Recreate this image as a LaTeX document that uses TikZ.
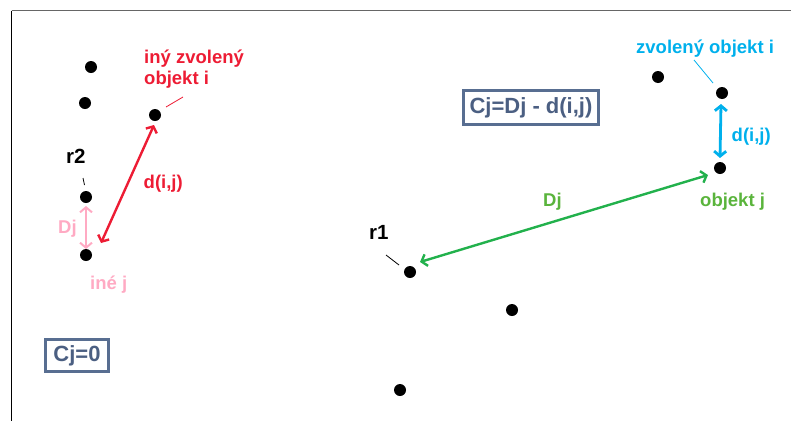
\documentclass[tikz,border=0pt]{standalone}
\usepackage{fontspec}
\setmainfont{Liberation Sans}
\usetikzlibrary{arrows.meta}
\definecolor{cred}{RGB}{237,28,52}
\definecolor{cpink}{RGB}{255,170,195}
\definecolor{ccyan}{RGB}{0,176,236}
\definecolor{cgreen}{RGB}{34,177,76}
\definecolor{cgreentext}{RGB}{90,180,60}
\definecolor{cslate}{RGB}{88,110,145}
\definecolor{cslatetext}{RGB}{75,95,130}
\tikzset{
  dot/.style={circle,fill=black,inner sep=0pt,minimum size=12pt},
  lbl/.style={inner sep=0pt,anchor=base west,font=\bfseries\fontsize{18.5}{22}\selectfont},
  rlbl/.style={inner sep=0pt,anchor=base west,font=\bfseries\fontsize{20.5}{24}\selectfont},
  formbox/.style={draw=cslate,line width=2.6pt,text=cslatetext,inner sep=0pt,font=\bfseries\fontsize{22}{26}\selectfont},
  dbl/.style={{Straight Barb[length=5pt,width=12pt]}-{Straight Barb[length=5pt,width=12pt]}},
  leader/.style={line width=0.8pt}
}
\begin{document}
\begin{tikzpicture}[x=1pt,y=-1pt]
\useasboundingbox (0,0) rectangle (791,421);
% frame
\coordinate (ftl) at (11.5,10.5);
\coordinate (ftr) at (791,10.5);
\coordinate (fbl) at (11.5,421);
\draw[gray!80!black,line width=1.5pt] (ftl) -- (ftr);
\draw[black,line width=1.5pt] (ftl) -- (fbl);
% dots
\node[dot] (a1) at (91,67) {};
\node[dot] (a2) at (85,103) {};
\node[dot] (i2) at (155,115) {};
\node[dot] (r2) at (86,197) {};
\node[dot] (j2) at (86,255) {};
\node[dot] (r1) at (410,272) {};
\node[dot] (b1) at (512,310) {};
\node[dot] (b2) at (400,390) {};
\node[dot] (b3) at (658,77) {};
\node[dot] (i1) at (722,93) {};
\node[dot] (j1) at (720,168) {};
% labels
\node[lbl,text=cred] (t1) at (144,63.3) {iný zvolený};
\node[lbl,text=cred] (t2) at (144,84.5) {objekt i};
\node[rlbl] (tr2) at (66,163) {r2};
\node[lbl,text=cred] (tdr) at (143.5,188.5) {d(i,j)};
\node[lbl,text=cpink] (tdj2) at (58,233) {Dj};
\node[lbl,text=cpink] (tine) at (90,289) {iné j};
\node[lbl,text=ccyan] (tzi) at (636,53) {zvolený objekt i};
\node[lbl,text=ccyan] (tdc) at (731.5,141.5) {d(i,j)};
\node[lbl,text=cgreentext] (toj) at (700,206.5) {objekt j};
\node[lbl,text=cgreentext] (tdj1) at (543,206.5) {Dj};
\node[rlbl] (tr1) at (369,239.5) {r1};
% formula boxes
\node[formbox,minimum width=135pt,minimum height=34pt] (box1) at (531,107.5) {Cj=Dj - d(i,j)};
\node[formbox,minimum width=63pt,minimum height=32pt] (box2) at (77,355.5) {Cj=0};
% leaders
\coordinate (lr1a) at (166,107); \coordinate (lr1b) at (183,97);
\draw[cred,leader] (lr1a) -- (lr1b);
\coordinate (lk2a) at (83,178); \coordinate (lk2b) at (84.5,185);
\draw[black,leader] (lk2a) -- (lk2b);
\coordinate (lc1a) at (694,60); \coordinate (lc1b) at (713,83);
\draw[ccyan,leader] (lc1a) -- (lc1b);
\coordinate (lk1a) at (386,255); \coordinate (lk1b) at (399,265);
\draw[black,leader] (lk1a) -- (lk1b);
% arrows
\coordinate (ra) at (101,243); \coordinate (rb) at (154,125);
\draw[cred,line width=2.4pt,dbl] (ra) -- (rb);
\coordinate (pa) at (86,206); \coordinate (pb) at (86,249);
\draw[cpink,line width=2pt,dbl] (pa) -- (pb);
\coordinate (ca) at (721,104); \coordinate (cb) at (720,158);
\draw[ccyan,line width=2.8pt,dbl] (ca) -- (cb);
\coordinate (ga) at (420,262); \coordinate (gb) at (708,175);
\draw[cgreen,line width=2.4pt,dbl] (ga) -- (gb);
\end{tikzpicture}
\end{document}
